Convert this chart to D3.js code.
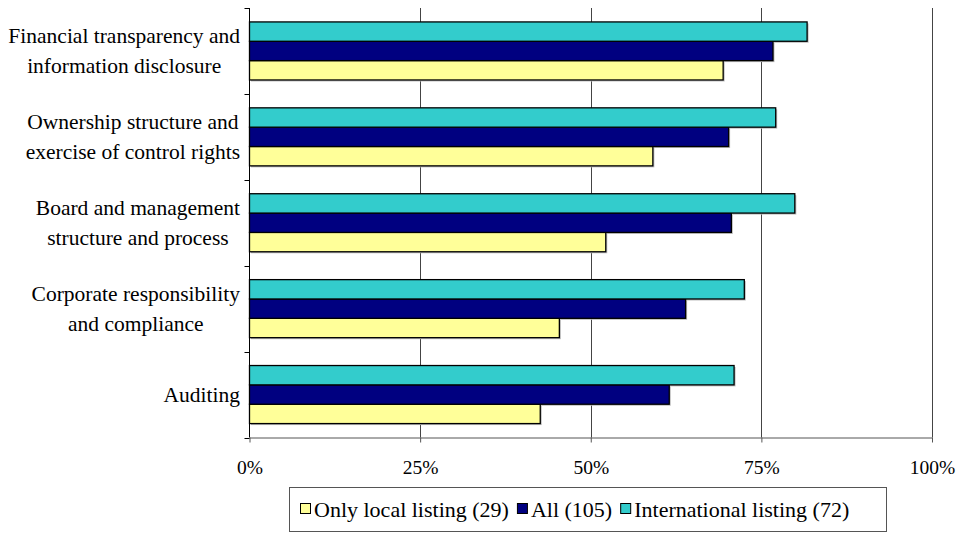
<!DOCTYPE html>
<html>
<head>
<meta charset="utf-8">
<script src="https://cdn.jsdelivr.net/npm/d3@7"></script>
<style>
  html, body { margin: 0; padding: 0; background: #fff; }
</style>
</head>
<body>
<svg id="chart" width="959" height="537"></svg>
<script>
// Governance areas, listed top to bottom
const categories = [
  ["Financial transparency and", "information disclosure"],
  ["Ownership structure and", "exercise of control rights"],
  ["Board and management", "structure and process"],
  ["Corporate responsibility", "and compliance"],
  ["Auditing"]
];
// Share of companies per group (fraction of 1)
const localListing = [0.694, 0.591, 0.522, 0.454, 0.426];
const allCompanies = [0.767, 0.702, 0.706, 0.639, 0.615];
const internationalListing = [0.817, 0.771, 0.799, 0.725, 0.710];

const seriesNames = ["Only local listing (29)", "All (105)", "International listing (72)"];
const seriesColors = ["#FFFF99", "#000080", "#33CCCC"];
const tickValues = [0, 0.25, 0.5, 0.75, 1];

const FONT = "Liberation Serif";
const series = [localListing, allCompanies, internationalListing];
const svg = d3.select("#chart");

const plot = { left: 249.5, right: 932, top: 8, bottom: 437.5 };

const x = d3.scaleLinear().domain([0, 1]).range([plot.left, plot.right]);
const catKeys = categories.map((c, i) => i);
const y = d3.scaleBand().domain(catKeys).range([plot.top, plot.bottom]).padding(0);
// Within each category: international on top, local at the bottom
const ySeries = d3.scaleBand()
  .domain([2, 1, 0])
  .range([0, y.bandwidth()])
  .paddingInner(0)
  .paddingOuter(0.72);

// Vertical gridlines
svg.append("g")
  .selectAll("line")
  .data(tickValues.slice(1))
  .join("line")
  .attr("x1", d => Math.round(x(d)) + 0.5)
  .attr("x2", d => Math.round(x(d)) + 0.5)
  .attr("y1", plot.top)
  .attr("y2", plot.bottom)
  .attr("stroke", "#444")
  .attr("stroke-width", 1);

// Bars
const groups = svg.append("g")
  .selectAll("g")
  .data(catKeys)
  .join("g")
  .attr("transform", d => `translate(0,${y(d)})`);

groups.selectAll("rect.shadow")
  .data(ci => series.map((s, si) => ({ si, v: s[ci] })))
  .join("rect")
  .attr("class", "shadow")
  .attr("x", x(0) + 1.5)
  .attr("y", d => ySeries(d.si) + 1.5)
  .attr("width", d => x(d.v) - x(0))
  .attr("height", ySeries.bandwidth())
  .attr("fill", "#bbb");

groups.selectAll("rect.bar")
  .data(ci => series.map((s, si) => ({ si, v: s[ci] })))
  .join("rect")
  .attr("class", "bar")
  .attr("x", x(0))
  .attr("y", d => ySeries(d.si))
  .attr("width", d => x(d.v) - x(0))
  .attr("height", ySeries.bandwidth())
  .attr("fill", d => seriesColors[d.si])
  .attr("stroke", "#000")
  .attr("stroke-width", 1.3);

// X axis
const xAxis = d3.axisBottom(x)
  .tickValues(tickValues)
  .tickFormat(d3.format(".0%"))
  .tickSize(5)
  .tickSizeOuter(0);
const gx = svg.append("g")
  .attr("transform", `translate(0,${plot.bottom})`)
  .call(xAxis)
  .attr("font-family", FONT)
  .attr("font-size", 19.5);
gx.select(".domain").attr("stroke", "#555");
gx.selectAll(".tick line").attr("stroke", "#555");
gx.selectAll(".tick text")
  .attr("y", 30)
  .attr("dy", "0.32em")
  .style("font-family", FONT)
  .attr("fill", "#000");

// Y axis: line plus ticks at category boundaries
const boundaries = d3.range(categories.length + 1).map(i => plot.top + i * y.step());
svg.append("line")
  .attr("x1", plot.left).attr("x2", plot.left)
  .attr("y1", plot.top).attr("y2", plot.bottom)
  .attr("stroke", "#000");
svg.append("g")
  .selectAll("line")
  .data(boundaries)
  .join("line")
  .attr("x1", plot.left - 5)
  .attr("x2", plot.left)
  .attr("y1", d => Math.round(d) + 0.5)
  .attr("y2", d => Math.round(d) + 0.5)
  .attr("stroke", "#000");

// Category labels: centred lines, block right-aligned to the axis
const labelRight = 240;
const lineGap = 30;
categories.forEach((lines, i) => {
  const cy = y(i) + y.bandwidth() / 2;
  const g = svg.append("g");
  const texts = lines.map((t, li) => g.append("text")
    .style("font-family", FONT)
    .style("font-size", "21.5px")
    .attr("text-anchor", "middle")
    .attr("dy", "0.35em")
    .attr("y", cy + (li - (lines.length - 1) / 2) * lineGap)
    .text(t));
  const maxW = d3.max(texts, t => t.node().getComputedTextLength());
  texts.forEach(t => t.attr("x", labelRight - maxW / 2));
});

// Legend: swatch + label, items laid out left to right
const legend = svg.append("g");
const legendBox = { x: 289.5, y: 487.5, w: 597, h: 44 };
legend.append("rect")
  .attr("x", legendBox.x).attr("y", legendBox.y)
  .attr("width", legendBox.w).attr("height", legendBox.h)
  .attr("fill", "#fff").attr("stroke", "#555");
let lx = 300;
const ly = 509;
seriesNames.forEach((name, i) => {
  legend.append("rect")
    .attr("x", lx + 0.5).attr("y", ly - 5.5)
    .attr("width", 10).attr("height", 10)
    .attr("fill", seriesColors[i]).attr("stroke", "#000");
  const t = legend.append("text")
    .attr("x", lx + 14).attr("y", ly)
    .attr("dy", "0.35em")
    .style("font-family", FONT)
    .style("font-size", "22px")
    .text(name);
  lx += 14 + t.node().getComputedTextLength() + 8;
});
</script>
</body>
</html>
